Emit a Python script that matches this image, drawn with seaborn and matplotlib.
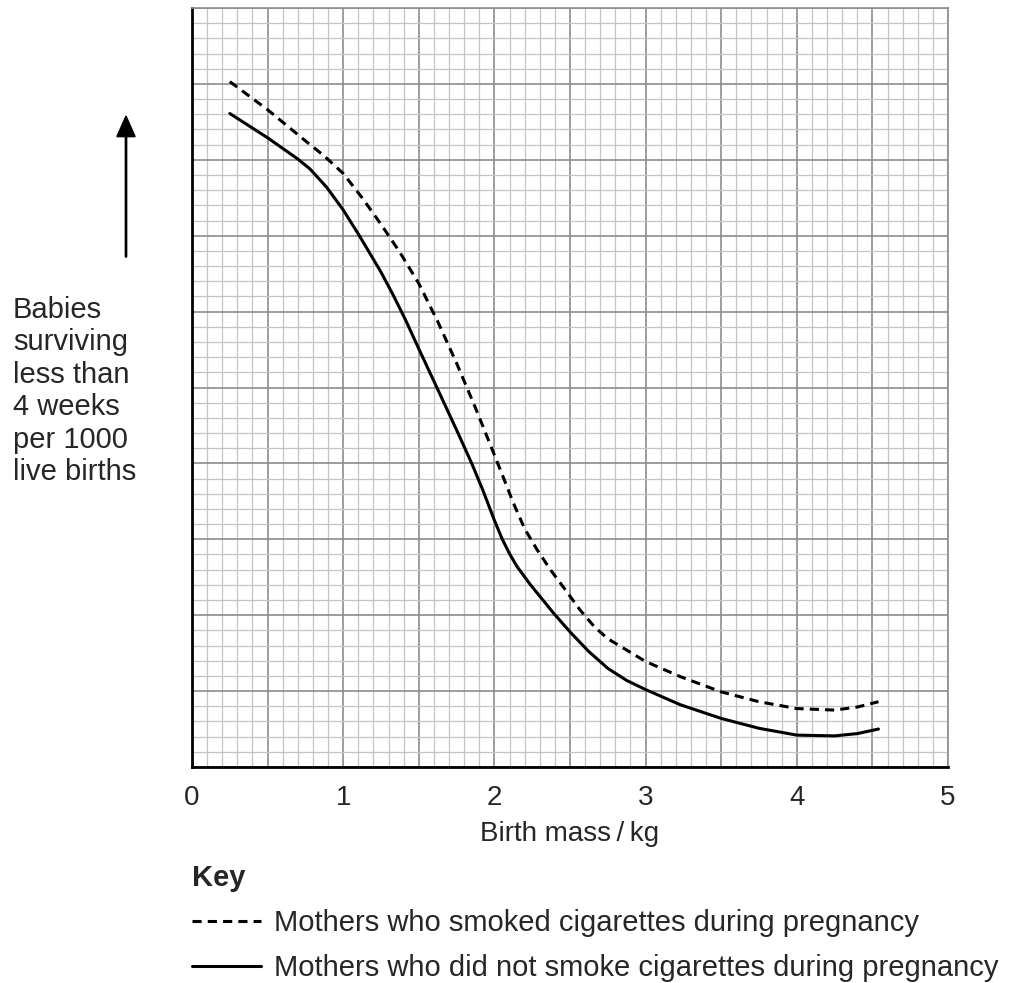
import matplotlib.pyplot as plt
from matplotlib.patches import FancyArrow
import numpy as np
import seaborn as sns

# values (y in grid units 0-10, the chart prints no scale)
mass_smoked = [0.25, 0.5, 0.75, 0.875, 1.0, 1.125, 1.25, 1.375, 1.5, 1.625, 1.75, 1.875, 1.97,
               2.01, 2.07, 2.125, 2.2, 2.28, 2.37, 2.456, 2.566, 2.66, 2.75, 3.0, 3.23, 3.5,
               3.75, 4.0, 4.25, 4.4, 4.54]
smoked = [9.03, 8.66, 8.25, 8.05, 7.82, 7.50, 7.15, 6.78, 6.37, 5.87, 5.32, 4.73, 4.26,
          4.06, 3.76, 3.48, 3.14, 2.87, 2.60, 2.37, 2.07, 1.85, 1.69, 1.39, 1.19, 0.99,
          0.86, 0.77, 0.75, 0.79, 0.86]

mass_non = [0.25, 0.5, 0.6, 0.7, 0.78, 0.89, 1.0, 1.11, 1.25, 1.33, 1.41, 1.5, 1.61, 1.75, 1.85,
            1.925, 2.0, 2.05, 2.1, 2.15, 2.235, 2.39, 2.5, 2.625, 2.75, 2.875, 3.0, 3.23, 3.32,
            3.5, 3.75, 4.0, 4.25, 4.4, 4.54]
non_smoked = [8.61, 8.29, 8.15, 8.01, 7.88, 7.64, 7.34, 6.99, 6.52, 6.22, 5.90, 5.51, 5.04, 4.44,
              4.00, 3.64, 3.25, 3.01, 2.81, 2.64, 2.41, 2.03, 1.78, 1.52, 1.30, 1.14, 1.02, 0.82,
              0.76, 0.64, 0.51, 0.42, 0.41, 0.44, 0.50]

x_ticks = [0, 1, 2, 3, 4, 5]
labels = ['Mothers who smoked cigarettes during pregnancy',
          'Mothers who did not smoke cigarettes during pregnancy']

sns.set_style('white')
plt.rcParams['font.family'] = ['Liberation Sans', 'DejaVu Sans']

fig = plt.figure(figsize=(10.12, 9.83), dpi=100)
ax = fig.add_axes([192/1012, 1-767/983, (948-192)/1012, (767-8)/983])

sns.lineplot(x=mass_smoked, y=smoked, ax=ax, color='black', linewidth=2.2, label=labels[0])
sns.lineplot(x=mass_non, y=non_smoked, ax=ax, color='black', linewidth=2.2, label=labels[1])
ax.lines[0].set_linestyle((0, (3, 2)))

ax.set_xlim(0, 5)
ax.set_ylim(0, 10)

# graph paper grid
major_x = np.arange(0, 5.01, 0.5)
ax.set_xticks(major_x)
ax.set_xticks(np.arange(0, 5.01, 0.1), minor=True)
ax.set_yticks(np.arange(0, 10.01, 1))
ax.set_yticks(np.arange(0, 10.01, 0.2), minor=True)
ax.grid(which='minor', color='#c4c4c4', linewidth=0.9)
ax.grid(which='major', color='#8c8c8c', linewidth=1.2)
ax.set_axisbelow(True)
ax.set_xticklabels([str(int(t)) if t in x_ticks else '' for t in major_x], fontsize=20)
ax.set_yticklabels([])
ax.tick_params(axis='y', which='both', length=0)
ax.tick_params(axis='x', which='minor', length=0)
ax.tick_params(axis='x', which='major', length=6, width=1.2, color='black', pad=7)
for t in ax.xaxis.get_major_ticks():
    if t.get_loc() not in x_ticks:
        t.tick1line.set_visible(False)

for s in ['left', 'bottom']:
    ax.spines[s].set_color('black')
    ax.spines[s].set_linewidth(2)
for s in ['top', 'right']:
    ax.spines[s].set_color('#8c8c8c')
    ax.spines[s].set_linewidth(1.2)

ax.set_xlabel('Birth mass\u2009/\u2009kg', fontsize=20, labelpad=7)

fig.text(13/1012, 1-296/983, 'Babies\nsurviving\nless than\n4 weeks\nper 1000\nlive births',
         fontsize=21, ha='left', va='top', linespacing=1.2)
fig.patches.append(FancyArrow(
    126/1012, 1-257/983, 0, (257-116)/983, width=0.0013, head_width=0.018,
    head_length=0.021, length_includes_head=True, color='black', transform=fig.transFigure))

ax.legend_.remove()
handles = ax.lines[:2]
fig.legend(handles, labels, loc='upper left', bbox_to_anchor=(192/1012, 1-864/983),
           frameon=False, fontsize=21, title='Key', alignment='left',
           title_fontproperties={'weight': 'bold', 'size': 21},
           handlelength=2.35, handletextpad=0.45, labelspacing=0.58, borderpad=0,
           borderaxespad=0)

fig.savefig('out.png', dpi=100)
